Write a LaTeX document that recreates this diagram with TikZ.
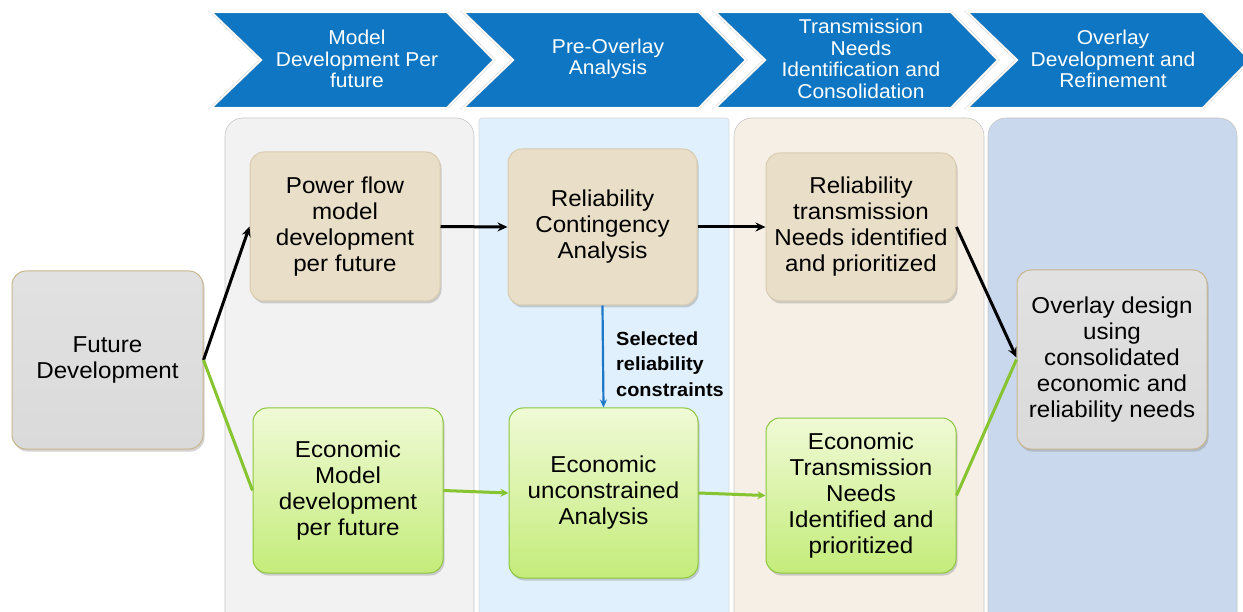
\documentclass[tikz,border=0pt]{standalone}
\usepackage{fontspec}
\setmainfont[FakeStretch=1.05]{Liberation Sans}
\usetikzlibrary{arrows.meta,shadows}
\definecolor{chev}{RGB}{14,118,194}
\definecolor{panelA}{RGB}{242,242,242}
\definecolor{panelB}{RGB}{224,240,252}
\definecolor{panelC}{RGB}{246,239,230}
\definecolor{panelD}{RGB}{201,216,236}
\definecolor{tanF}{RGB}{233,222,199}
\definecolor{tanD}{RGB}{201,182,142}
\definecolor{grayF}{RGB}{218,218,218}
\definecolor{greenT}{RGB}{240,250,214}
\definecolor{greenB}{RGB}{196,236,122}
\definecolor{greenD}{RGB}{140,198,63}
\definecolor{arrowG}{RGB}{134,196,48}
\definecolor{arrowB}{RGB}{30,120,200}
\tikzset{
  chevbox/.style={fill=chev, draw=gray!45, double=white, double distance=1.6pt},
  chevtext/.style={text=white, font=\fontsize{20}{21.5}\selectfont, align=center},
  panel/.style={draw=gray!45, line width=0.6pt, rounded corners=18pt},
  basebox/.style={rounded corners=14pt, line width=1pt, align=center,
    font=\fontsize{23}{26}\selectfont, inner sep=0pt,
    drop shadow={opacity=0.35, shadow xshift=1.5pt, shadow yshift=-2.5pt}},
  tanbox/.style={basebox, fill=tanF, draw=tanD!70},
  graybox/.style={basebox, top color=grayF!80, bottom color=grayF, draw=tanD},
  greenbox/.style={basebox, top color=greenT, bottom color=greenB, draw=greenD},
  blk/.style={-{Stealth[length=10pt,width=9pt]}, line width=3pt, black},
  grn/.style={line width=3pt, arrowG},
  grnarr/.style={grn, -{Stealth[length=8pt,width=8pt]}},
  blu/.style={-{Stealth[length=8pt,width=7pt]}, line width=2.2pt, arrowB},
}
\begin{document}
\begin{tikzpicture}[x=1pt,y=-1pt]
\useasboundingbox (0,0) rectangle (1243,612);
\begin{scope}
\clip (0,0) rectangle (1243,612);
% panels
\path[panel, fill=panelA] (225,118) rectangle (474,640);
\path[draw=gray!30, line width=0.6pt, fill=panelB, rounded corners=3pt] (479,118) rectangle (729,640);
\path[panel, fill=panelC] (734,118) rectangle (984,640);
\path[panel, fill=panelD] (988,118) rectangle (1237,640);
% chevrons
\foreach \x/\n in {211/c1,463/c2,715/c3,967/c4}{
  \path[chevbox] (\x,12) -- (\x+236,12) -- (\x+283,60) -- (\x+236,108) -- (\x,108) -- (\x+50,60) -- cycle;
}
\end{scope}
\node[chevtext] (h1) at (357,59) {Model\\Development Per\\future};
\node[chevtext] (h2) at (608,59) {Pre-Overlay\\Analysis};
\node[chevtext] (h3) at (861,59) {Transmission\\Needs\\Identification and\\Consolidation};
\node[chevtext] (h4) at (1113,59) {Overlay\\Development and\\Refinement};
% boxes
\node[graybox, minimum width=191pt, minimum height=178pt] (fd) at (107.5,360) {Future\\Development};
\node[tanbox, minimum width=190pt, minimum height=149pt] (pf) at (345,226.5) {Power flow\\model\\development\\per future};
\node[tanbox, minimum width=189pt, minimum height=156pt] (rc) at (602.5,227) {Reliability\\Contingency\\Analysis};
\node[tanbox, minimum width=190pt, minimum height=148pt] (rt) at (861,227) {Reliability\\transmission\\Needs identified\\and prioritized};
\node[graybox, minimum width=190pt, minimum height=179pt] (od) at (1112,359.5) {Overlay design\\using\\consolidated\\economic and\\reliability needs};
\node[greenbox, minimum width=190pt, minimum height=165pt] (em) at (348,490.5) {Economic\\Model\\development\\per future};
\node[greenbox, minimum width=189pt, minimum height=170pt] (eu) at (603.5,493) {Economic\\unconstrained\\Analysis};
\node[greenbox, minimum width=190pt, minimum height=155pt] (et) at (861,495.5) {Economic\\Transmission\\Needs\\Identified and\\prioritized};
% connectors
\draw[blk] (fd.east) -- (pf.west);
\draw[grn] (fd.east) -- (em.west);
\draw[blk] (pf.east) -- (rc.west);
\draw[blk] (rc.east) -- (rt.west);
\draw[blk] (rt.east) -- ([yshift=2pt]od.west);
\draw[grnarr] (em.east) -- (eu.west);
\draw[grnarr] (eu.east) -- (et.west);
\draw[grn] (et.east) -- (od.west);
\draw[blu] (rc.south) -- (eu.north);
\node[font=\bfseries\fontsize{19}{25.5}\selectfont, align=left, anchor=west, inner sep=0pt] (lbl) at (616,364) {Selected\\reliability\\constraints};
\end{tikzpicture}
\end{document}
